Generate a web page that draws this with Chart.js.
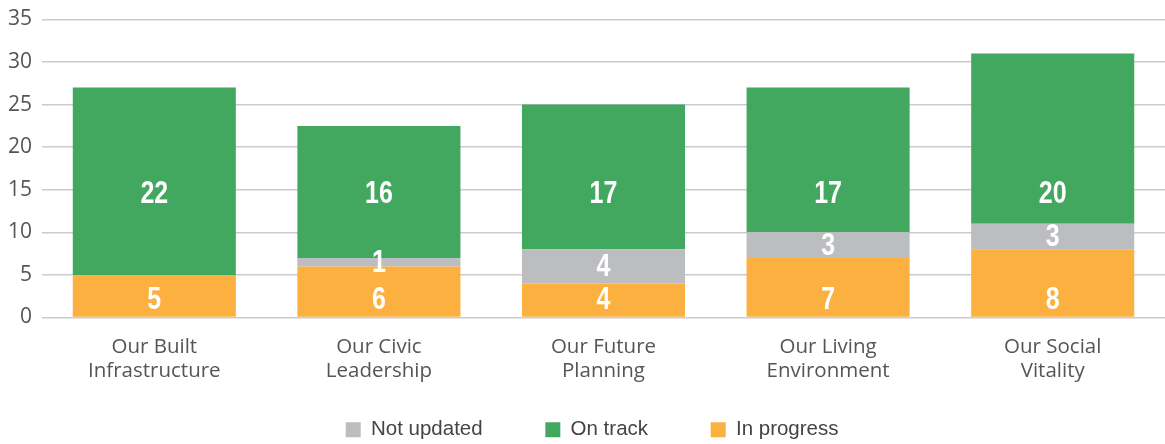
<!DOCTYPE html>
<html>
<head>
<meta charset="utf-8">
<script src="https://cdn.jsdelivr.net/npm/chart.js@4.4.1/dist/chart.umd.min.js"></script>
<style>
  html, body { margin: 0; padding: 0; background: #fff; }
  #wrap { width: 1165px; height: 444px; }
</style>
</head>
<body>
<div id="wrap"><canvas id="myChart" width="1165" height="444"></canvas></div>
<script>
// categories (two lines each)
const categories = [
  ["Our Built", "Infrastructure"],
  ["Our Civic", "Leadership"],
  ["Our Future", "Planning"],
  ["Our Living", "Environment"],
  ["Our Social", "Vitality"]
];

// series values, bottom to top
const inProgress = [5, 6, 4, 7, 8];
const notUpdated = [0, 1, 4, 3, 3];
const onTrack = [22, 15.5, 17, 17, 20];

const yTicks = { min: 0, max: 35, step: 5 };

// where the in-bar numbers sit (axis values)
const onTrackLabelAt = 14.6;
const inProgressLabelAt = 2.2;

const GREEN = "#42a85f";
const ORANGE = "#fbb040";
const GREY = "#bcbdc0";

const legendOrder = ["Not updated", "On track", "In progress"];
const legendGap = "           "; // extra room between legend items
const legendTail = "    ";

const barLabels = {
  id: "barLabels",
  afterDatasetsDraw(chart) {
    const ctx = chart.ctx;
    const y = chart.scales.y;
    ctx.save();
    ctx.fillStyle = "#fff";
    ctx.font = "bold 32px 'Liberation Sans', Arial, sans-serif";
    ctx.textAlign = "center";
    ctx.textBaseline = "middle";
    chart.data.datasets.forEach((ds, i) => {
      const meta = chart.getDatasetMeta(i);
      meta.data.forEach((bar, j) => {
        const v = ds.data[j];
        if (!v) return;
        let py;
        if (ds.label === "On track") py = y.getPixelForValue(onTrackLabelAt);
        else if (ds.label === "In progress") py = y.getPixelForValue(inProgressLabelAt);
        else py = (bar.y + bar.base) / 2;
        // squeeze the digits to look like a condensed face
        ctx.save();
        ctx.translate(bar.x, py);
        ctx.scale(0.78, 1);
        ctx.fillText(String(Math.round(v)), 0, 1);
        ctx.restore();
      });
    });
    ctx.restore();
  }
};

const statsChart = document.getElementById("myChart");
const myChart = new Chart(statsChart, {
  type: "bar",
  data: {
    labels: categories,
    datasets: [
      { label: "In progress", data: inProgress, backgroundColor: ORANGE },
      { label: "Not updated", data: notUpdated, backgroundColor: GREY },
      { label: "On track", data: onTrack, backgroundColor: GREEN }
    ]
  },
  options: {
    responsive: false,
    animation: false,
    layout: { padding: { top: 5, right: 0, bottom: -6, left: 0 } },
    datasets: {
      bar: { barPercentage: 0.726, categoryPercentage: 1.0 }
    },
    scales: {
      x: {
        stacked: true,
        afterFit(scale) { scale.height = 102; },
        grid: { display: false },
        border: { display: false },
        ticks: {
          color: "#555",
          padding: 10,
          font: { family: "'Open Sans', sans-serif", size: 20.5, lineHeight: 1.15 }
        }
      },
      y: {
        stacked: true,
        min: yTicks.min,
        max: yTicks.max,
        afterFit(scale) { scale.width = 42; },
        grid: { color: "#cbcbcd", lineWidth: 1.5, drawTicks: false },
        border: { display: false },
        ticks: {
          stepSize: yTicks.step,
          color: "#555",
          padding: 10,
          font: { family: "'Open Sans', sans-serif", size: 21, lineHeight: 0.9 }
        }
      }
    },
    plugins: {
      tooltip: { enabled: false },
      legend: {
        position: "bottom",
        fullSize: false,
        labels: {
          color: "#444",
          boxWidth: 15,
          boxHeight: 15,
          padding: 0,
          font: { family: "'Liberation Sans', Arial, sans-serif", size: 20.5 },
          generateLabels(chart) {
            const items = Chart.defaults.plugins.legend.labels.generateLabels(chart);
            items.sort((a, b) => legendOrder.indexOf(a.text) - legendOrder.indexOf(b.text));
            items.forEach((it, k) => {
              it.lineWidth = 0;
              it.text = it.text + (k < items.length - 1 ? legendGap : legendTail);
            });
            return items;
          }
        }
      }
    }
  },
  plugins: [barLabels]
});
</script>
</body>
</html>
